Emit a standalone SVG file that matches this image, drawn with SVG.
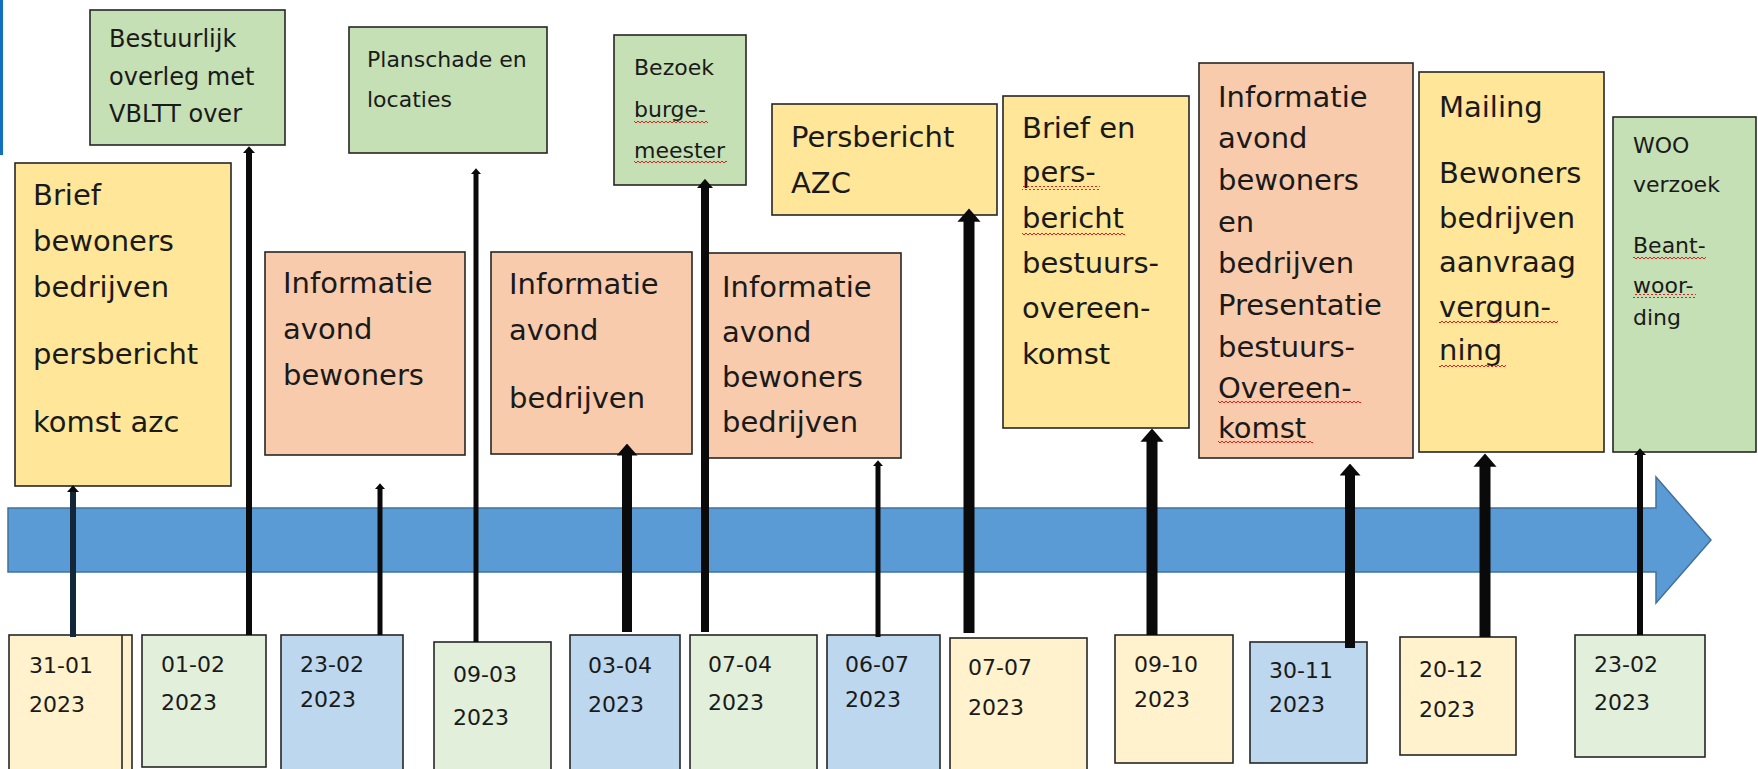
<svg xmlns="http://www.w3.org/2000/svg" width="1758" height="769" viewBox="0 0 1758 769">
<defs>
<style>
.bx{stroke:#262626;stroke-width:1.6}
.g{fill:#c5e0b4}.y{fill:#ffe699}.s{fill:#f8cbad}
.ly{fill:#fff2cc}.lg{fill:#e2efda}.lb{fill:#bdd7ee}
.t{font-family:"DejaVu Sans","Liberation Sans",sans-serif;fill:#1a1a1a}
.big{font-size:29px}.sm{font-size:22px}.md{font-size:24px}.dt{font-size:22px}
.cn{fill:none;stroke:#0a0a0a;marker-end:url(#ah)}
.wv{fill:url(#wavy)}
</style>
<marker id="ah" viewBox="0 0 10 10" refX="0.5" refY="5" markerUnits="strokeWidth" markerWidth="1.2" markerHeight="2.1" orient="auto" preserveAspectRatio="none">
<path d="M0,0 L10,5 L0,10 z" fill="#0a0a0a"/>
</marker>
<pattern id="wavy" patternUnits="userSpaceOnUse" width="4" height="4">
<polyline points="0,3 2,1 4,3" fill="none" stroke="#e02020" stroke-width="1"/>
</pattern>
</defs>
<rect width="1758" height="769" fill="#ffffff"/>
<rect x="0" y="0" width="3" height="155" fill="#1170c0"/>

<g id="timeline">
<polygon points="8,508 1656,508 1656,477 1711,540 1656,603 1656,572 8,572" fill="#5b9bd5" stroke="#41719c" stroke-width="1.5"/>
</g>

<g id="n-brief-bewoners">
<rect class="bx y" x="15" y="163" width="216" height="323"/>
<text class="t big"><tspan x="33" y="205">Brief</tspan><tspan x="33" y="251">bewoners</tspan><tspan x="33" y="297">bedrijven</tspan><tspan x="33" y="364">persbericht</tspan><tspan x="33" y="432">komst azc</tspan></text>
</g>
<g id="n-bestuurlijk">
<rect class="bx g" x="90" y="10" width="195" height="135"/>
<text class="t md"><tspan x="109" y="47">Bestuurlijk</tspan><tspan x="109" y="85">overleg met</tspan><tspan x="109" y="122">VBLTT over</tspan></text>
</g>
<g id="n-planschade">
<rect class="bx g" x="349" y="27" width="198" height="126"/>
<text class="t sm"><tspan x="367" y="67">Planschade en</tspan><tspan x="367" y="107">locaties</tspan></text>
</g>
<g id="n-info-bewoners">
<rect class="bx s" x="265" y="252" width="200" height="203"/>
<text class="t big"><tspan x="283" y="293">Informatie</tspan><tspan x="283" y="339">avond</tspan><tspan x="283" y="385">bewoners</tspan></text>
</g>
<g id="n-info-bedrijven">
<rect class="bx s" x="491" y="252" width="201" height="202"/>
<text class="t big"><tspan x="509" y="294">Informatie</tspan><tspan x="509" y="340">avond</tspan><tspan x="509" y="408">bedrijven</tspan></text>
</g>
<g id="n-bezoek">
<rect class="bx g" x="614" y="35" width="132" height="150"/>
<text class="t sm"><tspan x="634" y="75">Bezoek</tspan><tspan x="634" y="117">burge-</tspan><tspan x="634" y="158">meester</tspan></text>
<rect class="wv" x="634" y="120" width="74" height="4"/>
<rect class="wv" x="634" y="161" width="93" height="4"/>
</g>
<g id="n-persbericht-azc">
<rect class="bx y" x="772" y="104" width="225" height="111"/>
<text class="t big"><tspan x="791" y="147">Persbericht</tspan><tspan x="791" y="193">AZC</tspan></text>
</g>
<g id="n-info-bewoners-bedrijven">
<rect class="bx s" x="708" y="253" width="193" height="205"/>
<text class="t big"><tspan x="722" y="297">Informatie</tspan><tspan x="722" y="342">avond</tspan><tspan x="722" y="387">bewoners</tspan><tspan x="722" y="432">bedrijven</tspan></text>
</g>
<g id="n-brief-bestuursovereenkomst">
<rect class="bx y" x="1003" y="96" width="186" height="332"/>
<text class="t big"><tspan x="1022" y="138">Brief en</tspan><tspan x="1022" y="182">pers-</tspan><tspan x="1022" y="228">bericht</tspan><tspan x="1022" y="273">bestuurs-</tspan><tspan x="1022" y="318">overeen-</tspan><tspan x="1022" y="364">komst</tspan></text>
<rect class="wv" x="1022" y="186" width="78" height="4"/>
<rect class="wv" x="1022" y="231" width="103" height="4"/>
</g>
<g id="n-info-presentatie">
<rect class="bx s" x="1199" y="63" width="214" height="395"/>
<text class="t big"><tspan x="1218" y="107">Informatie</tspan><tspan x="1218" y="148">avond</tspan><tspan x="1218" y="190">bewoners</tspan><tspan x="1218" y="232">en</tspan><tspan x="1218" y="273">bedrijven</tspan><tspan x="1218" y="315">Presentatie</tspan><tspan x="1218" y="357">bestuurs-</tspan><tspan x="1218" y="398">Overeen-</tspan><tspan x="1218" y="438">komst</tspan></text>
<rect class="wv" x="1218" y="401" width="143" height="4"/>
<rect class="wv" x="1218" y="441" width="95" height="4"/>
</g>
<g id="n-mailing">
<rect class="bx y" x="1419" y="72" width="185" height="380"/>
<text class="t big"><tspan x="1439" y="117">Mailing</tspan><tspan x="1439" y="183">Bewoners</tspan><tspan x="1439" y="228">bedrijven</tspan><tspan x="1439" y="272">aanvraag</tspan><tspan x="1439" y="317">vergun-</tspan><tspan x="1439" y="360">ning</tspan></text>
<rect class="wv" x="1439" y="320" width="119" height="4"/>
<rect class="wv" x="1439" y="365" width="67" height="4"/>
</g>
<g id="n-woo">
<rect class="bx g" x="1613" y="117" width="143" height="335"/>
<text class="t sm"><tspan x="1633" y="153">WOO</tspan><tspan x="1633" y="192">verzoek</tspan><tspan x="1633" y="253">Beant-</tspan><tspan x="1633" y="293">woor-</tspan><tspan x="1633" y="325">ding</tspan></text>
<rect class="wv" x="1633" y="255" width="73" height="4"/>
<rect class="wv" x="1633" y="294" width="63" height="4"/>
</g>

<g id="d-3101">
<rect class="bx ly" x="9" y="635" width="123" height="140"/>
<line x1="122" y1="635" x2="122" y2="775" stroke="#262626" stroke-width="1.6"/>
<text class="t dt"><tspan x="29" y="673">31-01</tspan><tspan x="29" y="712">2023</tspan></text>
</g>
<g id="d-0102">
<rect class="bx lg" x="142" y="635" width="124" height="132"/>
<text class="t dt"><tspan x="161" y="672">01-02</tspan><tspan x="161" y="710">2023</tspan></text>
</g>
<g id="d-2302a">
<rect class="bx lb" x="281" y="635" width="122" height="140"/>
<text class="t dt"><tspan x="300" y="672">23-02</tspan><tspan x="300" y="707">2023</tspan></text>
</g>
<g id="d-0903">
<rect class="bx lg" x="434" y="642" width="117" height="133"/>
<text class="t dt"><tspan x="453" y="682">09-03</tspan><tspan x="453" y="725">2023</tspan></text>
</g>
<g id="d-0304">
<rect class="bx lb" x="570" y="635" width="110" height="140"/>
<text class="t dt"><tspan x="588" y="673">03-04</tspan><tspan x="588" y="712">2023</tspan></text>
</g>
<g id="d-0704">
<rect class="bx lg" x="690" y="635" width="127" height="140"/>
<text class="t dt"><tspan x="708" y="672">07-04</tspan><tspan x="708" y="710">2023</tspan></text>
</g>
<g id="d-0607">
<rect class="bx lb" x="827" y="635" width="113" height="140"/>
<text class="t dt"><tspan x="845" y="672">06-07</tspan><tspan x="845" y="707">2023</tspan></text>
</g>
<g id="d-0707">
<rect class="bx ly" x="950" y="638" width="137" height="137"/>
<text class="t dt"><tspan x="968" y="675">07-07</tspan><tspan x="968" y="715">2023</tspan></text>
</g>
<g id="d-0910">
<rect class="bx ly" x="1115" y="635" width="118" height="128"/>
<text class="t dt"><tspan x="1134" y="672">09-10</tspan><tspan x="1134" y="707">2023</tspan></text>
</g>
<g id="d-3011">
<rect class="bx lb" x="1250" y="642" width="117" height="121"/>
<text class="t dt"><tspan x="1269" y="678">30-11</tspan><tspan x="1269" y="712">2023</tspan></text>
</g>
<g id="d-2012">
<rect class="bx ly" x="1400" y="637" width="116" height="118"/>
<text class="t dt"><tspan x="1419" y="677">20-12</tspan><tspan x="1419" y="717">2023</tspan></text>
</g>
<g id="d-2302b">
<rect class="bx lg" x="1575" y="635" width="130" height="122"/>
<text class="t dt"><tspan x="1594" y="672">23-02</tspan><tspan x="1594" y="710">2023</tspan></text>
</g>

<g id="connectors">
<path class="cn" d="M73,637 V492" stroke-width="6" style="stroke:#14263a"/>
<path class="cn" d="M249,635 V153" stroke-width="6"/>
<path class="cn" d="M380,635 V489" stroke-width="5"/>
<path class="cn" d="M476,642 V174" stroke-width="5"/>
<path class="cn" d="M627,632 V455" stroke-width="10"/>
<path class="cn" d="M705,632 V188" stroke-width="8"/>
<path class="cn" d="M878,637 V466" stroke-width="5"/>
<path class="cn" d="M969,633 V221" stroke-width="11"/>
<path class="cn" d="M1152,635 V441" stroke-width="11"/>
<path class="cn" d="M1350,648 V475" stroke-width="10"/>
<path class="cn" d="M1485,637 V466" stroke-width="11"/>
<path class="cn" d="M1640,635 V455" stroke-width="6"/>
</g>
</svg>
